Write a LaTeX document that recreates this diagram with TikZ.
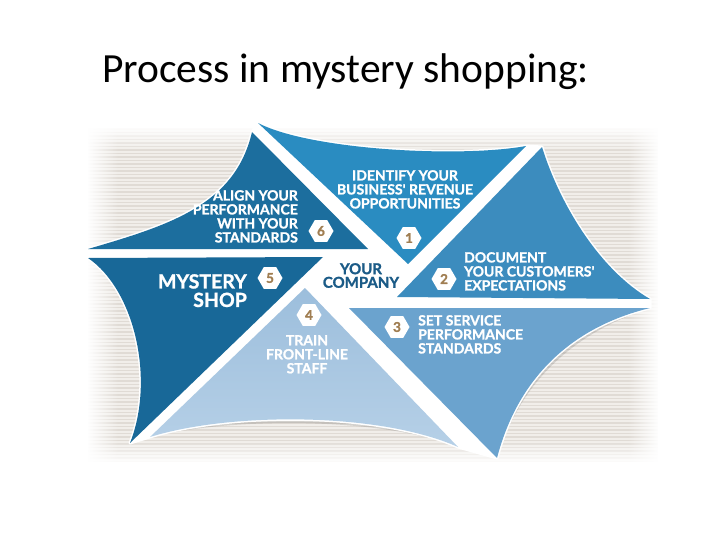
\documentclass[tikz,border=0pt]{standalone}
\usepackage{fontspec}
\setmainfont{Carlito}
\newfontfamily\labfont{Lato}[BoldFeatures={FakeBold=1.3}]
\usetikzlibrary{shapes.geometric,fadings}
\definecolor{panelbg}{RGB}{241,238,234}
\definecolor{stripe}{RGB}{224,219,213}
\definecolor{sailsix}{RGB}{28,110,158}
\definecolor{sailone}{RGB}{42,140,193}
\definecolor{sailtwo}{RGB}{60,140,190}
\definecolor{sailthree}{RGB}{107,163,206}
\definecolor{sailfourA}{RGB}{156,190,220}
\definecolor{sailfourB}{RGB}{182,208,231}
\definecolor{sailfive}{RGB}{24,104,152}
\definecolor{companyblue}{RGB}{27,91,135}
\definecolor{digit}{RGB}{160,126,82}
\tikzset{
  lab/.style={font=\labfont\bfseries\fontsize{14}{14}\selectfont, text=white, inner sep=0pt},
  biglab/.style={font=\labfont\bfseries\fontsize{19.5}{18.5}\selectfont, text=white, inner sep=0pt},
  hexnum/.style={regular polygon, regular polygon sides=6, minimum size=25pt, fill=white,
    inner sep=0pt, text=digit, font=\labfont\bfseries\fontsize{13.5}{13.5}\selectfont},
  sailstar/.style={insert path={
  (BL6) .. controls (170,225) and (235,205) .. (T6) -- (TL1)
  .. controls (310,150) and (460,158) .. (TR1) -- (T2)
  .. controls (560,205) and (600,270) .. (R2) -- (R3)
  .. controls (580,325) and (520,370) .. (B3) -- (BR4)
  .. controls (380,412) and (230,412) .. (BL4) -- (B5)
  .. controls (155,380) and (135,290) .. (TL5) -- cycle}},
}
\begin{document}
\begin{tikzpicture}[x=1pt,y=-1pt]
\useasboundingbox (0,0) rectangle (728,546);
\fill[white] (0,0) rectangle (728,546);

% title
\node[anchor=base west, inner sep=0pt, font=\fontsize{41.5}{48}\selectfont] (title) at (102,82) {Process in mystery shopping:};

% striped panel
\fill[panelbg] (88,128) rectangle (658,462);
\foreach \yy in {129,132.5,...,462} \draw[stripe, line width=1.3pt] (88,\yy) -- (658,\yy);
\fill[white, path fading=east] (87,126) rectangle (118,464);
\fill[white, path fading=west] (628,126) rectangle (659,464);
\fill[white, path fading=south] (87,126) rectangle (659,150);
\fill[white, path fading=north] (87,440) rectangle (659,464);

% sail corner coordinates
\coordinate (T6) at (252,132);  \coordinate (BR6) at (368,249); \coordinate (BL6) at (88,249);
\coordinate (TL1) at (258,123); \coordinate (TR1) at (526,146); \coordinate (B1) at (408,264);
\coordinate (T2) at (542,147);  \coordinate (R2) at (650,299);  \coordinate (BL2) at (397,297);
\coordinate (TL3) at (349,308); \coordinate (R3) at (650,308);  \coordinate (B3) at (497,458);
\coordinate (T4) at (305,288);  \coordinate (BL4) at (150,437); \coordinate (BR4) at (458,447);
\coordinate (TL5) at (88,258);  \coordinate (TR5) at (323,257); \coordinate (B5) at (130,443);

% soft shadow
\fill[black, opacity=0.12, shift={(2pt,-5pt)}, sailstar];

% white star under the sails
\filldraw[white, line width=3pt, line join=round, sailstar];

% sails
\fill[sailsix] (BL6) .. controls (170,225) and (235,205) .. (T6) -- (BR6) -- cycle;
\fill[sailone] (TL1) .. controls (310,150) and (460,158) .. (TR1) -- (B1) -- cycle;
\fill[sailtwo] (T2) .. controls (560,205) and (600,270) .. (R2) -- (BL2) -- cycle;
\fill[sailthree] (TL3) -- (R3) .. controls (580,325) and (520,370) .. (B3) -- cycle;
\shade[top color=sailfourA, bottom color=sailfourB] (T4) -- (BR4) .. controls (380,412) and (230,412) .. (BL4) -- cycle;
\fill[sailfive] (TL5) -- (TR5) -- (B5) .. controls (155,380) and (135,290) .. (TL5) -- cycle;

% labels
\node[lab, anchor=north east, align=right] (align) at (298,190)
  {ALIGN YOUR\\PERFORMANCE\\WITH YOUR\\STANDARDS};
\node[lab, anchor=north, align=center] (identify) at (405,170)
  {IDENTIFY YOUR\\BUSINESS' REVENUE\\OPPORTUNITIES};
\node[lab, anchor=north west, align=left] (document) at (464,252)
  {DOCUMENT\\YOUR CUSTOMERS'\\EXPECTATIONS};
\node[lab, anchor=north west, align=left] (setservice) at (418,315)
  {SET SERVICE\\PERFORMANCE\\STANDARDS};
\node[lab, anchor=north, align=center] (train) at (307,335)
  {TRAIN\\FRONT-LINE\\STAFF};
\node[biglab, anchor=north east, align=right] (mystery) at (247,274)
  {MYSTERY\\SHOP};
\node[lab, text=companyblue, font=\labfont\bfseries\fontsize{15}{13.6}\selectfont, anchor=north, align=center] (company) at (361,263)
  {YOUR\\COMPANY};

% numbers
\node[hexnum] (n1) at (409,238) {1};
\node[hexnum] (n2) at (444,279) {2};
\node[hexnum] (n3) at (397,327) {3};
\node[hexnum] (n4) at (309,315) {4};
\node[hexnum] (n5) at (270,278) {5};
\node[hexnum] (n6) at (321,231) {6};
\end{tikzpicture}
\end{document}
